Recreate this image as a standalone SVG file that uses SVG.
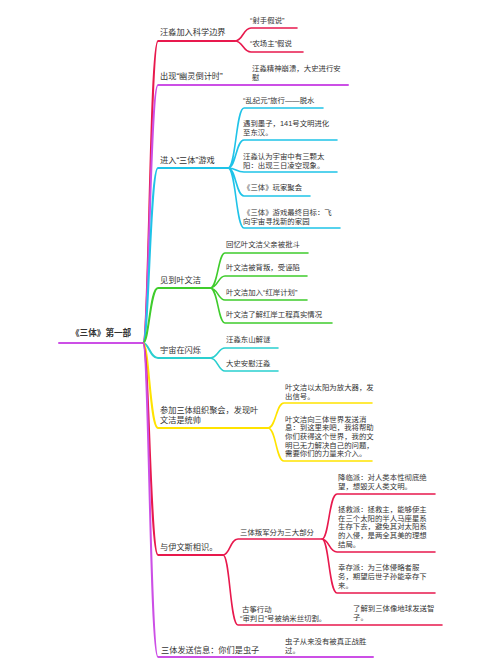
<svg xmlns="http://www.w3.org/2000/svg" width="500" height="658" viewBox="0 0 500 658">
<style>
text{font-family:"Liberation Sans","Noto Sans CJK SC",sans-serif;fill:#333}
.r{font-size:8.6px;font-weight:bold}
.b{font-size:8.2px}
.c{font-size:7.4px}
.t{fill:none;stroke-width:2;stroke-linecap:round}
.s{fill:none;stroke-width:1.6;stroke-linecap:round}
.red{stroke:#e8194d}.pur{stroke:#cc4fe6}.cya{stroke:#1fc3e8}.grn{stroke:#3fcc2c}.tea{stroke:#2acfcf}.yel{stroke:#ffe300}
</style>
<rect width="500" height="658" fill="#fff"/>
<g id="connectors">
<path class="t pur" d="M59,343H143"/>
<path class="t red" d="M143,343C149,343 150,41 158,41H235"/>
<path class="t pur" d="M143,343C149,343 150,85 158,85H348"/>
<path class="t cya" d="M143,343C149,343 150,168 158,168H228"/>
<path class="t grn" d="M143,343C149,343 150,288 158,288H210"/>
<path class="t tea" d="M143,343C149,343 150,358 158,358H210"/>
<path class="t yel" d="M143,343C149,343 150,428 158,428H268"/>
<path class="t red" d="M143,343C149,343 150,555 158,555H223"/>
<path class="t pur" d="M143,343C149,343 150,657 158,657H373"/>
<path class="s red" d="M235,41C243,41 243,28 251,28H297M235,41C243,41 243,52 251,52H303"/>
<path class="s cya" d="M228,168C236,168 236,108 244,108H323M228,168C236,168 236,140 244,140H337M228,168C236,168 236,172 244,172H337M228,168C236,168 236,196 244,196H310M228,168C236,168 236,228 244,228H340"/>
<path class="s grn" d="M210,288C218,288 218,253 225,253H308M210,288C218,288 218,276 225,276H307M210,288C218,288 218,300 225,300H307M210,288C218,288 218,323 225,323H332"/>
<path class="s tea" d="M210,358C218,358 218,348 225,348H278M210,358C218,358 218,371 225,371H278"/>
<path class="s yel" d="M268,428C276,428 276,403 284,403H372M268,428C276,428 276,461 284,461H372"/>
<path class="s red" d="M223,555C230,555 230,539 238,539H322M223,555C230,555 230,625 238,625H442"/>
<path class="s red" d="M322,539C329,539 329,494 337,494H435M322,539C329,539 329,552 337,552H435M322,539C329,539 329,593 337,593H435"/>
</g>
<g id="root"><text class="r" x="71" y="336">《三体》第一部</text></g>
<g id="n1"><text class="b" x="160" y="35">汪淼加入科学边界</text></g>
<g id="n1a"><text class="c" x="250" y="23">“射手假说”</text></g>
<g id="n1b"><text class="c" x="250" y="46">“农场主”假说</text></g>
<g id="n2"><text class="b" x="160" y="79">出现“幽灵倒计时”</text></g>
<g id="n2a"><text class="c" x="252" y="70.5">汪淼精神崩溃，大史进行安</text><text class="c" x="252" y="80">慰</text></g>
<g id="n3"><text class="b" x="160" y="163">进入“三体”游戏</text></g>
<g id="n3a"><text class="c" x="243" y="103">“乱纪元”旅行——脱水</text></g>
<g id="n3b"><text class="c" x="243" y="126">遇到墨子，141号文明进化</text><text class="c" x="243" y="135">至东汉。</text></g>
<g id="n3c"><text class="c" x="243" y="159">汪淼认为宇宙中有三颗太</text><text class="c" x="243" y="168">阳：出现三日凌空现象。</text></g>
<g id="n3d"><text class="c" x="243" y="190">《三体》玩家聚会</text></g>
<g id="n3e"><text class="c" x="243" y="215">《三体》游戏最终目标：飞</text><text class="c" x="243" y="224">向宇宙寻找新的家园</text></g>
<g id="n4"><text class="b" x="160" y="283">见到叶文洁</text></g>
<g id="n4a"><text class="c" x="226" y="247">回忆叶文洁父亲被批斗</text></g>
<g id="n4b"><text class="c" x="226" y="270">叶文洁被背叛，受诬陷</text></g>
<g id="n4c"><text class="c" x="226" y="295">叶文洁加入“红岸计划”</text></g>
<g id="n4d"><text class="c" x="226" y="317">叶文洁了解红岸工程真实情况</text></g>
<g id="n5"><text class="b" x="160" y="353">宇宙在闪烁</text></g>
<g id="n5a"><text class="c" x="226" y="342">汪淼东山解谜</text></g>
<g id="n5b"><text class="c" x="226" y="366">大史安慰汪淼</text></g>
<g id="n6"><text class="b" x="160" y="413">参加三体组织聚会，发现叶</text><text class="b" x="160" y="423">文洁是统帅</text></g>
<g id="n6a"><text class="c" x="285" y="390">叶文洁以太阳为放大器，发</text><text class="c" x="285" y="399">出信号。</text></g>
<g id="n6b"><text class="c" x="285" y="421.5">叶文洁向三体世界发送消</text><text class="c" x="285" y="430.2">息：到这里来吧，我将帮助</text><text class="c" x="285" y="438.9">你们获得这个世界，我的文</text><text class="c" x="285" y="447.6">明已无力解决自己的问题，</text><text class="c" x="285" y="456.3">需要你们的力量来介入。</text></g>
<g id="n7"><text class="b" x="160" y="550">与伊文斯相识。</text></g>
<g id="n7a"><text class="c" x="240" y="535">三体叛军分为三大部分</text></g>
<g id="n7a1"><text class="c" x="338" y="480">降临派：对人类本性彻底绝</text><text class="c" x="338" y="489">望，想毁灭人类文明。</text></g>
<g id="n7a2"><text class="c" x="338" y="512">拯救派：拯救主，能够使主</text><text class="c" x="338" y="520.7">在三个太阳的半人马座星系</text><text class="c" x="338" y="529.4">生存下去，避免其对太阳系</text><text class="c" x="338" y="538.1">的入侵，是两全其美的理想</text><text class="c" x="338" y="546.8">结局。</text></g>
<g id="n7a3"><text class="c" x="338" y="570">幸存派：为三体侵略者服</text><text class="c" x="338" y="579">务，期望后世子孙能幸存下</text><text class="c" x="338" y="588">来。</text></g>
<g id="n7b"><text class="c" x="242" y="611.5">古筝行动</text><text class="c" x="240" y="620.5">“审判日”号被纳米丝切割。</text></g>
<g id="n7b1"><text class="c" x="353" y="611">了解到三体像地球发送智</text><text class="c" x="353" y="620">子。</text></g>
<g id="n8"><text class="b" x="161" y="653">三体发送信息：你们是虫子</text></g>
<g id="n8a"><text class="c" x="285" y="644">虫子从来没有被真正战胜</text><text class="c" x="285" y="653">过。</text></g>
</svg>
